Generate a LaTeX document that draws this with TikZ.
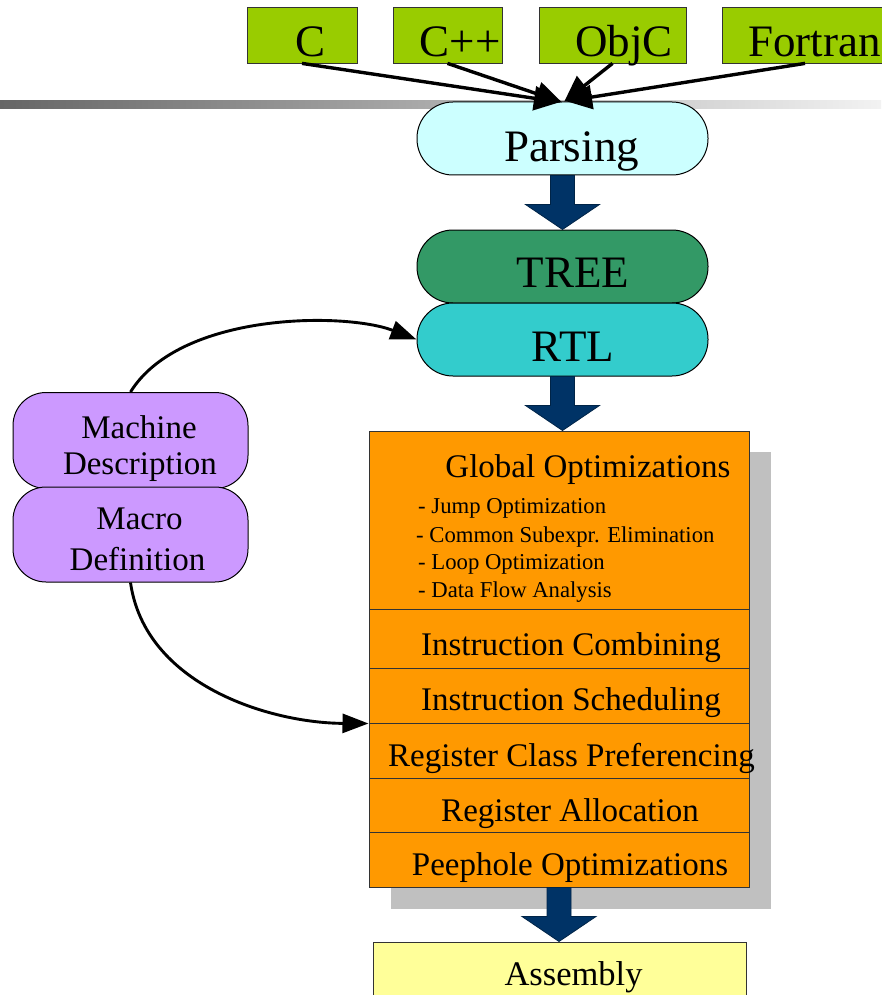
\documentclass[tikz,border=0pt]{standalone}
\usepackage{fontspec}
\setmainfont{Liberation Serif}
\usetikzlibrary{arrows.meta,calc}

\definecolor{langgreen}{HTML}{99CC00}
\definecolor{parsefill}{HTML}{CCFFFF}
\definecolor{treefill}{HTML}{339966}
\definecolor{rtlfill}{HTML}{33CCCC}
\definecolor{mdfill}{HTML}{CC99FF}
\definecolor{passfill}{HTML}{FF9900}
\definecolor{asmfill}{HTML}{FFFF99}
\definecolor{navy}{HTML}{003366}
\definecolor{shadowgray}{HTML}{C0C0C0}
\definecolor{edgegray}{HTML}{333333}

\tikzset{
  big/.style={font=\fontsize{45}{50}\selectfont},
  mid/.style={font=\fontsize{33}{36}\selectfont},
  small/.style={font=\fontsize{22.7}{26}\selectfont},
  txt/.style={inner sep=0pt, anchor=base},
  txtleft/.style={inner sep=0pt, anchor=base west},
  langbox/.style={draw=edgegray, line width=0.8pt, fill=langgreen, inner sep=0pt, minimum height=56pt},
  stadium/.style={draw=black, line width=1pt, rounded corners=36pt, inner sep=0pt, minimum width=291pt, minimum height=73pt},
  mdbox/.style={draw=black, line width=1pt, fill=mdfill, rounded corners=33pt, inner sep=0pt, minimum width=235pt},
  passbox/.style={draw=edgegray, line width=1pt, fill=passfill, inner sep=0pt, minimum width=380pt},
  langarrow/.style={line width=3.4pt, -{Triangle[length=26pt,width=24pt]}, shorten >=-1pt},
  curvearrow/.style={line width=2.9pt, -{Triangle[length=26pt,width=19pt]}},
  fatarrow/.style={fill=navy, draw=navy!70!black, line width=0.8pt,
    to path={let \p1=(\tikztostart), \p2=(\tikztotarget) in
      (\x1-12pt,\y1) -- (\x1+12pt,\y1) -- (\x1+12pt,\y2+25pt) -- (\x1+37pt,\y2+25pt)
      -- (\x1,\y2) -- (\x1-37pt,\y2+25pt) -- (\x1-12pt,\y2+25pt) -- cycle}},
}

\begin{document}
\begin{tikzpicture}[x=1pt,y=-1pt]
\path[use as bounding box] (0,0) rectangle (881,995);

% shadow behind the pass stack
\fill[shadowgray] (391,452) rectangle (771,909);

% grey rule across the page
\shade[left color=black!60, middle color=black!25, right color=black!5] (0,101) rectangle (881,109);

% source languages
\node[langbox, minimum width=110pt] (c) at (302,35) {};
\node[langbox, minimum width=109pt] (cpp) at (447.5,35) {};
\node[langbox, minimum width=147pt] (objc) at (612.5,35) {};
\node[langbox, minimum width=166pt] (fortran) at (805,35) {};
\node[big, txt] (tc) at (311,57) {C};
\node[big, txt] (tcpp) at (460,57) {C++};
\node[big, txt] (tobjc) at (624,57) {ObjC};
\node[big, txtleft] (tfortran) at (748,57) {Fortran};

% front end
\node[stadium, fill=parsefill] (parsing) at (562.5,138.5) {};
\node[stadium, fill=treefill] (tree) at (562.5,266.5) {};
\node[stadium, fill=rtlfill] (rtl) at (562.5,339.5) {};
\node[big, txt] (tparsing) at (571.5,162) {Parsing};
\node[big, txt] (ttree) at (573,287) {TREE};
\node[big, txt] (trtl) at (573,361) {RTL};

% target description
\node[mdbox, minimum height=96pt] (md) at (130.5,440.5) {};
\node[mdbox, minimum height=95pt] (macro) at (130.5,534.5) {};
\node[mid, txt] (tmd1) at (139,438) {Machine};
\node[mid, txt] (tmd2) at (140,474) {Description};
\node[mid, txt] (tmac1) at (139.5,529) {Macro};
\node[mid, txt] (tmac2) at (137.5,570) {Definition};

% optimization passes
\node[passbox, minimum height=178pt] (global) at (559,520) {};
\node[passbox, minimum height=59pt] (combine) at (559,638.5) {};
\node[passbox, minimum height=55pt] (sched) at (559,695.5) {};
\node[passbox, minimum height=55pt] (regclass) at (559,750.5) {};
\node[passbox, minimum height=54pt] (regalloc) at (559,805) {};
\node[passbox, minimum height=55pt] (peep) at (559,859.5) {};

\node[mid, txt] (tglobal) at (588,477) {Global Optimizations};
\node[small, txtleft] (tjump) at (418,513) {- Jump Optimization};
\node[small, txtleft] (tcse) at (416,542) {- Common Subexpr. Elimination};
\node[small, txtleft] (tloop) at (418,569) {- Loop Optimization};
\node[small, txtleft] (tdfa) at (418,597) {- Data Flow Analysis};
\node[mid, txt] (tcombine) at (571,655) {Instruction Combining};
\node[mid, txt] (tsched) at (571,710) {Instruction Scheduling};
\node[mid, txt] (tregclass) at (571.5,766) {Register Class Preferencing};
\node[mid, txt] (tregalloc) at (570,821) {Register Allocation};
\node[mid, txt] (tpeep) at (570,875) {Peephole Optimizations};

% output
\node[draw=edgegray, line width=1pt, fill=asmfill, inner sep=0pt, minimum width=373pt, minimum height=60pt] (asm) at (559.5,972) {};
\node[font=\fontsize{34.5}{38}\selectfont, txt] (tasm) at (573.5,985) {Assembly};

% main flow
\filldraw[fatarrow] (parsing.south) to (tree.north);
\filldraw[fatarrow] (rtl.south) to (global.north);
\filldraw[fatarrow] (peep.south) to (asm.north);

% languages into the parser
\coordinate (ta) at (559,102);
\coordinate (tb) at (561,102);
\coordinate (tc2) at (565,101);
\coordinate (td) at (567,101);
\draw[langarrow] (c.south) -- (ta);
\draw[langarrow] (cpp.south) -- (tb);
\draw[langarrow] (objc.south) -- (tc2);
\draw[langarrow] (fortran.south) -- (td);

% machine description feeds RTL generation and the back end
\draw[curvearrow] (md.north) .. controls (180,312) and (345,312) .. (rtl.west);
\draw[curvearrow] (macro.south) .. controls (145,685) and (270,723) .. (sched.south west);
\end{tikzpicture}
\end{document}
